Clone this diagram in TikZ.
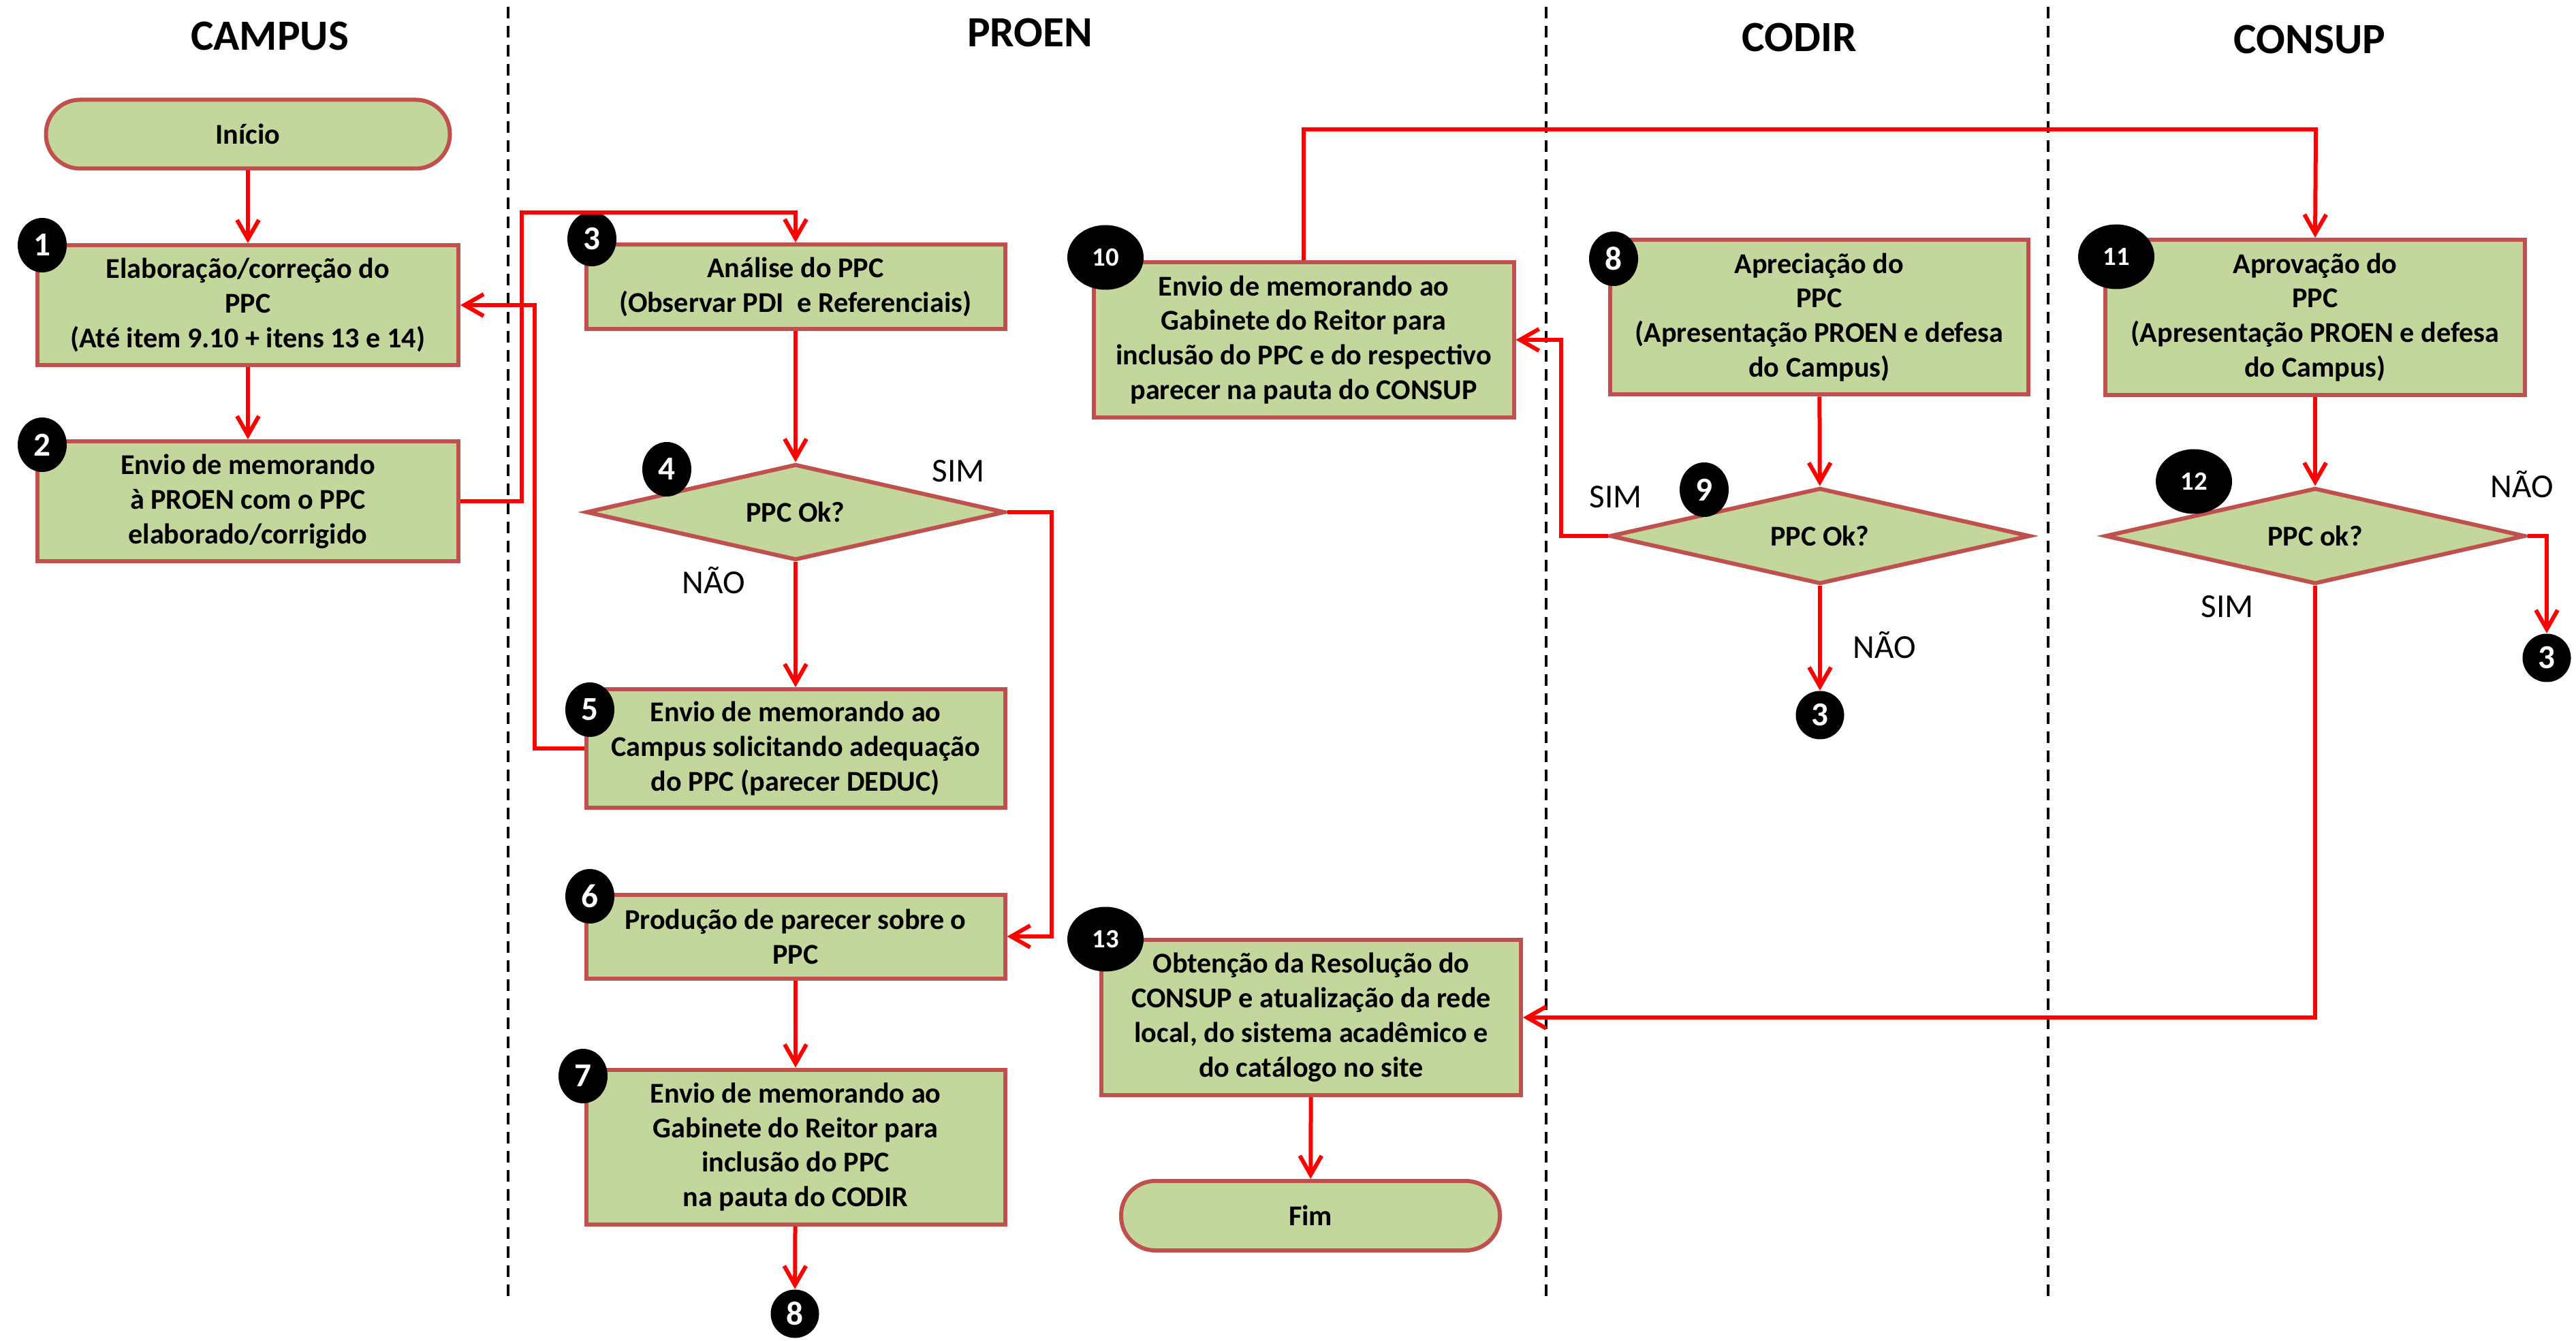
\documentclass[tikz,border=0pt]{standalone}
\usepackage{fontspec}
\setmainfont{Carlito}
\usepackage{tikz}
\usetikzlibrary{shapes.geometric,arrows.meta}
\definecolor{verde}{HTML}{C3D69B}
\definecolor{bordo}{HTML}{C0504D}

\begin{document}
\begin{tikzpicture}[
    >={Straight Barb[length=2.8mm,width=3.2mm]},
    caixa/.style={draw=bordo,fill=verde,line width=0.6mm,align=center,inner sep=2pt,
        minimum width=6.15cm,font=\bfseries\fontsize{12}{14.5}\selectfont},
    terminal/.style={caixa,rounded corners=0.5cm},
    decisao/.style={diamond,aspect=4.4,draw=bordo,fill=verde,line width=0.6mm,inner sep=0pt,
        minimum width=6.15cm,minimum height=1.41cm,font=\bfseries\fontsize{12}{14.5}\selectfont},
    marca/.style={ellipse,fill=black,text=white,inner sep=0pt,minimum width=0.72cm,
        minimum height=0.8cm,font=\bfseries\fontsize{14}{16}\selectfont},
    marcagrande/.style={marca,minimum width=1.12cm,minimum height=0.95cm,
        font=\bfseries\fontsize{11}{13}\selectfont},
    conector/.style={circle,fill=black,text=white,inner sep=0pt,minimum size=0.71cm,
        font=\bfseries\fontsize{14}{16}\selectfont},
    titulo/.style={font=\bfseries\fontsize{18}{22}\selectfont},
    rotulo/.style={font=\fontsize{14}{16}\selectfont},
    fluxo/.style={->,red,line width=0.6mm},
    divisa/.style={black,line width=0.35mm,dash pattern=on 1.7mm off 1.1mm}
]
    \useasboundingbox (0,0) rectangle (37.82,19.68);

    % raias
    \node[titulo] (tcampus) at (3.96,19.15) {CAMPUS};
    \node[titulo] (tproen) at (15.12,19.20) {PROEN};
    \node[titulo] (tcodir) at (26.42,19.13) {CODIR};
    \node[titulo] (tconsup) at (33.91,19.10) {CONSUP};
    \draw[divisa] (7.46,19.58) -- (7.46,0.58);
    \draw[divisa] (22.70,19.58) -- (22.70,0.58);
    \draw[divisa] (30.07,19.58) -- (30.07,0.58);

    % campus
    \node[terminal,minimum width=5.93cm,minimum height=1.01cm] (inicio) at (3.64,17.71) {Início};
    \node[caixa,minimum width=6.18cm,minimum height=1.76cm] (elab) at (3.64,15.20)
        {Elaboração/correção do\\PPC\\(Até item 9.10 + itens 13 e 14)};
    \node[caixa,minimum width=6.18cm,minimum height=1.76cm] (memo) at (3.64,12.32)
        {Envio de memorando\\à PROEN com o PPC\\elaborado/corrigido};

    % proen
    \node[caixa,minimum height=1.24cm] (analise) at (11.68,15.47)
        {Análise do PPC\\(Observar PDI \ e Referenciais)};
    \node[decisao] (ok4) at (11.68,12.16) {PPC Ok?};
    \node[caixa,minimum height=1.74cm] (adequa) at (11.68,8.69)
        {Envio de memorando ao\\Campus solicitando adequação\\do PPC (parecer DEDUC)};
    \node[caixa,minimum height=1.23cm] (parecer) at (11.68,5.93)
        {Produção de parecer sobre o\\PPC};
    \node[caixa,minimum height=2.27cm] (memocodir) at (11.68,2.84)
        {Envio de memorando ao\\Gabinete do Reitor para\\inclusão do PPC\\na pauta do CODIR};
    \node[conector] (ir8) at (11.67,0.39) {8};
    \node[caixa,minimum width=6.17cm,minimum height=2.28cm] (memoconsup) at (19.14,14.69)
        {Envio de memorando ao\\Gabinete do Reitor para\\inclusão do PPC e do respectivo\\parecer na pauta do CONSUP};
    \node[caixa,minimum width=6.16cm,minimum height=2.28cm] (resol) at (19.25,4.74)
        {Obtenção da Resolução do\\CONSUP e atualização da rede\\local, do sistema acadêmico e\\do catálogo no site};
    \node[terminal,minimum width=5.56cm,minimum height=1.02cm] (fim) at (19.24,1.83) {Fim};

    % codir
    \node[caixa,minimum width=6.14cm,minimum height=2.27cm] (apreci) at (26.71,15.02)
        {Apreciação do\\PPC\\(Apresentação PROEN e defesa\\do Campus)};
    \node[decisao,minimum width=6.17cm] (ok9) at (26.72,11.81) {PPC Ok?};
    \node[conector] (ir3a) at (26.72,9.18) {3};

    % consup
    \node[caixa,minimum width=6.16cm,minimum height=2.28cm] (aprov) at (33.99,15.02)
        {Aprovação do\\PPC\\(Apresentação PROEN e defesa\\do Campus)};
    \node[decisao,minimum width=6.17cm] (ok12) at (33.99,11.81) {PPC ok?};
    \node[conector] (ir3b) at (37.39,10.02) {3};

    % numeros das etapas
    \node[marca] (m1) at (0.62,16.08) {1};
    \node[marca] (m2) at (0.62,13.15) {2};
    \node[marca] (m3) at (8.69,16.17) {3};
    \node[marca] (m4) at (9.79,12.79) {4};
    \node[marca] (m5) at (8.66,9.26) {5};
    \node[marca] (m6) at (8.66,6.52) {6};
    \node[marca] (m7) at (8.56,3.88) {7};
    \node[marca] (m8) at (23.69,15.88) {8};
    \node[marca] (m9) at (25.02,12.49) {9};
    \node[marcagrande] (m10) at (16.23,15.90) {10};
    \node[marcagrande] (m11) at (31.07,15.91) {11};
    \node[marcagrande] (m12) at (32.21,12.61) {12};
    \node[marcagrande] (m13) at (16.23,5.89) {13};

    % rotulos
    \node[rotulo] (sim4) at (14.07,12.76) {SIM};
    \node[rotulo] (nao4) at (10.48,11.16) {NÃO};
    \node[rotulo] (sim9) at (23.72,12.38) {SIM};
    \node[rotulo] (nao9) at (27.67,10.21) {NÃO};
    \node[rotulo] (nao12) at (37.03,12.57) {NÃO};
    \node[rotulo] (sim12) at (32.70,10.77) {SIM};

    % fluxo
    \draw[fluxo] (inicio) -- (elab);
    \draw[fluxo] (elab) -- (memo);
    \draw[fluxo] (memo.east) -| (7.66,16.56) -| (analise.north);
    \draw[fluxo] (adequa.west) -| (7.85,15.20) -- (elab.east);
    \draw[fluxo] (analise) -- (ok4);
    \draw[fluxo] (ok4) -- (adequa);
    \draw[fluxo] (ok4.east) -| (15.44,5.93) -- (parecer.east);
    \draw[fluxo] (parecer) -- (memocodir);
    \draw[fluxo] (memocodir) -- (ir8);
    \draw[fluxo] (apreci) -- (ok9);
    \draw[fluxo] (ok9.west) -| (22.92,14.69) -- (memoconsup.east);
    \draw[fluxo] (ok9) -- (ir3a);
    \draw[fluxo] (memoconsup.north) |- (34.00,17.78) -- (aprov.north);
    \draw[fluxo] (aprov) -- (ok12);
    \draw[fluxo] (ok12.east) -| (ir3b.north);
    \draw[fluxo] (ok12.south) |- (resol.east);
    \draw[fluxo] (resol) -- (fim);
\end{tikzpicture}
\end{document}
